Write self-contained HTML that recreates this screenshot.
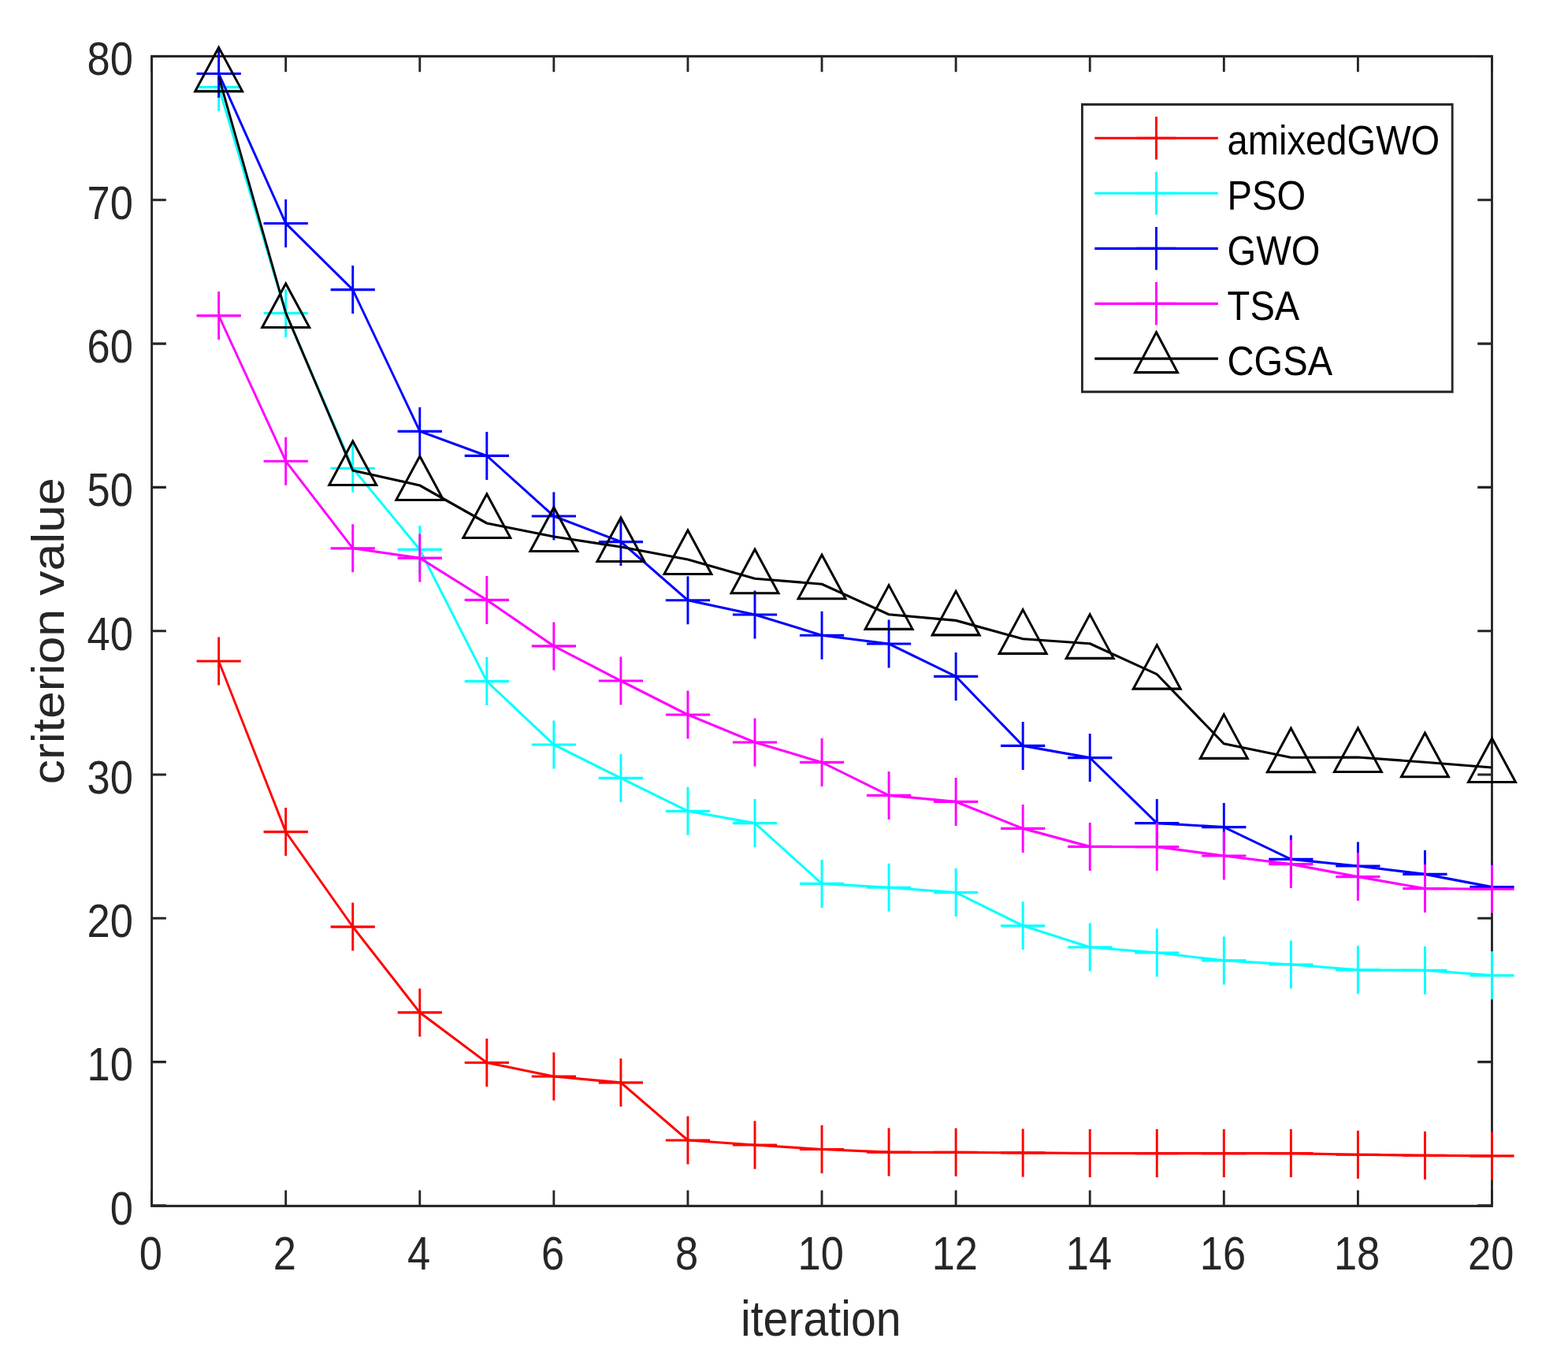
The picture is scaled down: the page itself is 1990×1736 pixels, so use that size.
<!DOCTYPE html>
<html lang="en"><head><meta charset="utf-8"><title>criterion value vs iteration</title>
<style>html,body{margin:0;padding:0;background:#fff;}body{width:1990px;height:1736px;overflow:hidden;}svg{display:block;}text{font-family:"Liberation Sans",Arial,Helvetica,sans-serif;}</style>
</head><body>
<svg width="1990" height="1736" viewBox="0 0 1990 1736" role="img" aria-label="criterion value versus iteration for amixedGWO, PSO, GWO, TSA and CGSA">
<rect x="0" y="0" width="1990" height="1736" fill="#ffffff"/>
<defs><clipPath id="axclip"><rect x="208.89" y="71.4" width="1844.79" height="1459"/></clipPath></defs>
<g transform="scale(0.922 1)">
<g stroke="#262626" stroke-width="3.1" fill="none" stroke-linecap="square">
<rect x="208.89" y="71.4" width="1844.79" height="1459" stroke-linejoin="miter"/>
</g>
<g stroke="#262626" stroke-width="3.1" fill="none" stroke-linecap="butt">
<path d="M208.89 1530.4v-19.8M208.89 71.4v19.8M393.37 1530.4v-19.8M393.37 71.4v19.8M577.85 1530.4v-19.8M577.85 71.4v19.8M762.33 1530.4v-19.8M762.33 71.4v19.8M946.81 1530.4v-19.8M946.81 71.4v19.8M1131.29 1530.4v-19.8M1131.29 71.4v19.8M1315.77 1530.4v-19.8M1315.77 71.4v19.8M1500.25 1530.4v-19.8M1500.25 71.4v19.8M1684.73 1530.4v-19.8M1684.73 71.4v19.8M1869.21 1530.4v-19.8M1869.21 71.4v19.8M2053.69 1530.4v-19.8M2053.69 71.4v19.8M208.89 1529.9h19.8M2053.69 1529.9h-19.8M208.89 1347.6h19.8M2053.69 1347.6h-19.8M208.89 1165.3h19.8M2053.69 1165.3h-19.8M208.89 983h19.8M2053.69 983h-19.8M208.89 800.7h19.8M2053.69 800.7h-19.8M208.89 618.4h19.8M2053.69 618.4h-19.8M208.89 436.1h19.8M2053.69 436.1h-19.8M208.89 253.8h19.8M2053.69 253.8h-19.8M208.89 71.5h19.8M2053.69 71.5h-19.8"/>
</g>
<g fill="#262626" font-size="58.3">
<g text-anchor="middle">
<text transform="translate(207.48 1611.1) scale(0.975 1)">0</text>
<text transform="translate(391.96 1611.1) scale(0.975 1)">2</text>
<text transform="translate(576.44 1611.1) scale(0.975 1)">4</text>
<text transform="translate(760.92 1611.1) scale(0.975 1)">6</text>
<text transform="translate(945.4 1611.1) scale(0.975 1)">8</text>
<text transform="translate(1129.88 1611.1) scale(0.975 1)">10</text>
<text transform="translate(1314.36 1611.1) scale(0.975 1)">12</text>
<text transform="translate(1498.84 1611.1) scale(0.975 1)">14</text>
<text transform="translate(1683.32 1611.1) scale(0.975 1)">16</text>
<text transform="translate(1867.8 1611.1) scale(0.975 1)">18</text>
<text transform="translate(2052.28 1611.1) scale(0.975 1)">20</text>
</g>
<g text-anchor="end">
<text transform="translate(183.19 1553.7) scale(0.975 1)">0</text>
<text transform="translate(183.19 1371.4) scale(0.975 1)">10</text>
<text transform="translate(183.19 1189.1) scale(0.975 1)">20</text>
<text transform="translate(183.19 1006.8) scale(0.975 1)">30</text>
<text transform="translate(183.19 824.5) scale(0.975 1)">40</text>
<text transform="translate(183.19 642.2) scale(0.975 1)">50</text>
<text transform="translate(183.19 459.9) scale(0.975 1)">60</text>
<text transform="translate(183.19 277.6) scale(0.975 1)">70</text>
<text transform="translate(183.19 95.3) scale(0.975 1)">80</text>
</g>
</g>
<g fill="#262626" font-size="62.5" text-anchor="middle">
<text transform="translate(1129.93 1694.7) scale(0.994 1)">iteration</text>
<text transform="translate(88.18 800.8) rotate(-90)">criterion value</text>
</g>
<g stroke="#ff0000" stroke-width="3.15" fill="none">
<polyline clip-path="url(#axclip)" stroke-linejoin="round" points="301.13,839 393.37,1055.6 485.61,1176.1 577.85,1284.9 670.09,1348.5 762.33,1366 854.57,1373.8 946.81,1447 1039.05,1453 1131.29,1458.5 1223.53,1462.1 1315.77,1462.3 1408.01,1462.9 1500.25,1463.5 1592.49,1463.6 1684.73,1463.6 1776.97,1463.6 1869.21,1465.2 1961.45,1466.2 2053.69,1466.8"/>
<path d="M270.63 839h61M301.13 808.5v61M362.87 1055.6h61M393.37 1025.1v61M455.11 1176.1h61M485.61 1145.6v61M547.35 1284.9h61M577.85 1254.4v61M639.59 1348.5h61M670.09 1318v61M731.83 1366h61M762.33 1335.5v61M824.07 1373.8h61M854.57 1343.3v61M916.31 1447h61M946.81 1416.5v61M1008.55 1453h61M1039.05 1422.5v61M1100.79 1458.5h61M1131.29 1428v61M1193.03 1462.1h61M1223.53 1431.6v61M1285.27 1462.3h61M1315.77 1431.8v61M1377.51 1462.9h61M1408.01 1432.4v61M1469.75 1463.5h61M1500.25 1433v61M1561.99 1463.6h61M1592.49 1433.1v61M1654.23 1463.6h61M1684.73 1433.1v61M1746.47 1463.6h61M1776.97 1433.1v61M1838.71 1465.2h61M1869.21 1434.7v61M1930.95 1466.2h61M1961.45 1435.7v61M2023.19 1466.8h61M2053.69 1436.3v61"/>
</g>
<g stroke="#00ffff" stroke-width="3.15" fill="none">
<polyline clip-path="url(#axclip)" stroke-linejoin="round" points="301.13,110.6 393.37,397.4 485.61,594.2 577.85,697.4 670.09,864.6 762.33,945 854.57,987.4 946.81,1029.3 1039.05,1044.6 1131.29,1121.4 1223.53,1126.2 1315.77,1132.6 1408.01,1174.8 1500.25,1202 1592.49,1209 1684.73,1218.9 1776.97,1224 1869.21,1230.8 1961.45,1231.4 2053.69,1237.8"/>
<path d="M270.63 110.6h61M301.13 80.1v61M362.87 397.4h61M393.37 366.9v61M455.11 594.2h61M485.61 563.7v61M547.35 697.4h61M577.85 666.9v61M639.59 864.6h61M670.09 834.1v61M731.83 945h61M762.33 914.5v61M824.07 987.4h61M854.57 956.9v61M916.31 1029.3h61M946.81 998.8v61M1008.55 1044.6h61M1039.05 1014.1v61M1100.79 1121.4h61M1131.29 1090.9v61M1193.03 1126.2h61M1223.53 1095.7v61M1285.27 1132.6h61M1315.77 1102.1v61M1377.51 1174.8h61M1408.01 1144.3v61M1469.75 1202h61M1500.25 1171.5v61M1561.99 1209h61M1592.49 1178.5v61M1654.23 1218.9h61M1684.73 1188.4v61M1746.47 1224h61M1776.97 1193.5v61M1838.71 1230.8h61M1869.21 1200.3v61M1930.95 1231.4h61M1961.45 1200.9v61M2023.19 1237.8h61M2053.69 1207.3v61"/>
</g>
<g stroke="#0000ff" stroke-width="3.15" fill="none">
<polyline clip-path="url(#axclip)" stroke-linejoin="round" points="301.13,93.5 393.37,283.5 485.61,367.6 577.85,547.3 670.09,578.4 762.33,655 854.57,687.6 946.81,761.7 1039.05,780 1131.29,806.2 1223.53,817 1315.77,858.4 1408.01,946.4 1500.25,961.6 1592.49,1044.6 1684.73,1049.6 1776.97,1090.4 1869.21,1099 1961.45,1109.4 2053.69,1125.6"/>
<path d="M270.63 93.5h61M301.13 63v61M362.87 283.5h61M393.37 253v61M455.11 367.6h61M485.61 337.1v61M547.35 547.3h61M577.85 516.8v61M639.59 578.4h61M670.09 547.9v61M731.83 655h61M762.33 624.5v61M824.07 687.6h61M854.57 657.1v61M916.31 761.7h61M946.81 731.2v61M1008.55 780h61M1039.05 749.5v61M1100.79 806.2h61M1131.29 775.7v61M1193.03 817h61M1223.53 786.5v61M1285.27 858.4h61M1315.77 827.9v61M1377.51 946.4h61M1408.01 915.9v61M1469.75 961.6h61M1500.25 931.1v61M1561.99 1044.6h61M1592.49 1014.1v61M1654.23 1049.6h61M1684.73 1019.1v61M1746.47 1090.4h61M1776.97 1059.9v61M1838.71 1099h61M1869.21 1068.5v61M1930.95 1109.4h61M1961.45 1078.9v61M2023.19 1125.6h61M2053.69 1095.1v61"/>
</g>
<g stroke="#ff00ff" stroke-width="3.15" fill="none">
<polyline clip-path="url(#axclip)" stroke-linejoin="round" points="301.13,400.6 393.37,585.2 485.61,695.8 577.85,708.1 670.09,761.4 762.33,819.9 854.57,864 946.81,907 1039.05,942 1131.29,967.4 1223.53,1009.4 1315.77,1017.4 1408.01,1051.4 1500.25,1074.4 1592.49,1074.6 1684.73,1086 1776.97,1096.6 1869.21,1112.6 1961.45,1127.6 2053.69,1128.2"/>
<path d="M270.63 400.6h61M301.13 370.1v61M362.87 585.2h61M393.37 554.7v61M455.11 695.8h61M485.61 665.3v61M547.35 708.1h61M577.85 677.6v61M639.59 761.4h61M670.09 730.9v61M731.83 819.9h61M762.33 789.4v61M824.07 864h61M854.57 833.5v61M916.31 907h61M946.81 876.5v61M1008.55 942h61M1039.05 911.5v61M1100.79 967.4h61M1131.29 936.9v61M1193.03 1009.4h61M1223.53 978.9v61M1285.27 1017.4h61M1315.77 986.9v61M1377.51 1051.4h61M1408.01 1020.9v61M1469.75 1074.4h61M1500.25 1043.9v61M1561.99 1074.6h61M1592.49 1044.1v61M1654.23 1086h61M1684.73 1055.5v61M1746.47 1096.6h61M1776.97 1066.1v61M1838.71 1112.6h61M1869.21 1082.1v61M1930.95 1127.6h61M1961.45 1097.1v61M2023.19 1128.2h61M2053.69 1097.7v61"/>
</g>
<g stroke="#000000" stroke-width="3.15" fill="none">
<polyline clip-path="url(#axclip)" stroke-linejoin="round" points="301.13,97.3 393.37,397 485.61,597 577.85,616 670.09,664 762.33,681 854.57,694 946.81,710 1039.05,734.2 1131.29,741.2 1223.53,779.8 1315.77,787.4 1408.01,810.8 1500.25,816.8 1592.49,855.6 1684.73,943.8 1776.97,961.2 1869.21,961 1961.45,967.2 2053.69,974"/>
<path stroke-linejoin="miter" stroke-miterlimit="10" d="M301.13 60.2L333.63 115.8L268.63 115.8ZM393.37 359.9L425.87 415.5L360.87 415.5ZM485.61 559.9L518.11 615.5L453.11 615.5ZM577.85 578.9L610.35 634.5L545.35 634.5ZM670.09 626.9L702.59 682.5L637.59 682.5ZM762.33 643.9L794.83 699.5L729.83 699.5ZM854.57 656.9L887.07 712.5L822.07 712.5ZM946.81 672.9L979.31 728.5L914.31 728.5ZM1039.05 697.1L1071.55 752.7L1006.55 752.7ZM1131.29 704.1L1163.79 759.7L1098.79 759.7ZM1223.53 742.7L1256.03 798.3L1191.03 798.3ZM1315.77 750.3L1348.27 805.9L1283.27 805.9ZM1408.01 773.7L1440.51 829.3L1375.51 829.3ZM1500.25 779.7L1532.75 835.3L1467.75 835.3ZM1592.49 818.5L1624.99 874.1L1559.99 874.1ZM1684.73 906.7L1717.23 962.3L1652.23 962.3ZM1776.97 924.1L1809.47 979.7L1744.47 979.7ZM1869.21 923.9L1901.71 979.5L1836.71 979.5ZM1961.45 930.1L1993.95 985.7L1928.95 985.7ZM2053.69 936.9L2086.19 992.5L2021.19 992.5Z"/>
</g>
<rect x="1489.59" y="132.6" width="509.54" height="364.6" fill="#ffffff" stroke="#262626" stroke-width="3.1"/>
<g stroke="#ff0000" stroke-width="3.15" fill="none">
<path d="M1506.83 175.2H1676.68"/>
<path d="M1564.45 175.2h54.4M1591.65 148v54.4"/>
</g>
<text transform="translate(1689.37 196) scale(0.983 1)" font-size="52.0" fill="#000000">amixedGWO</text>
<g stroke="#00ffff" stroke-width="3.15" fill="none">
<path d="M1506.83 245.2H1676.68"/>
<path d="M1564.45 245.2h54.4M1591.65 218v54.4"/>
</g>
<text transform="translate(1689.37 266) scale(0.983 1)" font-size="52.0" fill="#000000">PSO</text>
<g stroke="#0000ff" stroke-width="3.15" fill="none">
<path d="M1506.83 315.3H1676.68"/>
<path d="M1564.45 315.3h54.4M1591.65 288.1v54.4"/>
</g>
<text transform="translate(1689.37 336.1) scale(0.983 1)" font-size="52.0" fill="#000000">GWO</text>
<g stroke="#ff00ff" stroke-width="3.15" fill="none">
<path d="M1506.83 385.3H1676.68"/>
<path d="M1564.45 385.3h54.4M1591.65 358.1v54.4"/>
</g>
<text transform="translate(1689.37 406.1) scale(0.983 1)" font-size="52.0" fill="#000000">TSA</text>
<g stroke="#000000" stroke-width="3.15" fill="none">
<path d="M1506.83 455.1H1676.68"/>
<path stroke-linejoin="miter" stroke-miterlimit="10" d="M1591.65 421.6L1620.95 472.6L1562.35 472.6Z"/>
</g>
<text transform="translate(1689.37 475.9) scale(0.983 1)" font-size="52.0" fill="#000000">CGSA</text>
</g>
</svg>
</body></html>
